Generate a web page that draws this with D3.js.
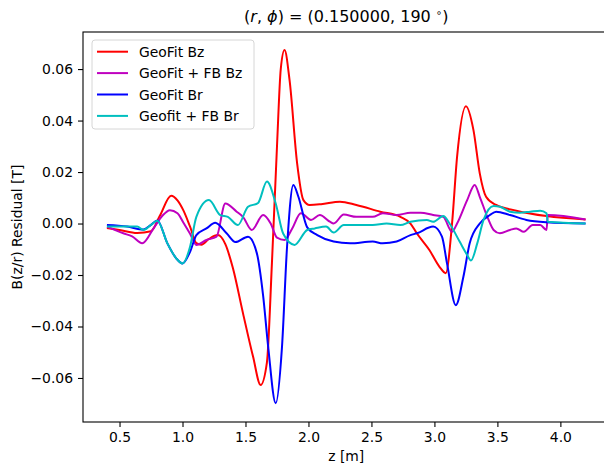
<html>
<head>
<meta charset="utf-8">
<script src="https://cdn.jsdelivr.net/npm/d3@7"></script>
<style>
  body { margin: 0; background: #fff; }
  text { font-family: "DejaVu Sans", sans-serif; fill: #000; }
</style>
</head>
<body>
<div id="chart"></div>
<script>
// series (z in m, residual in T)
const bzZ = [0.40,0.50,0.64,0.75,0.82,0.91,0.96,1.006,1.06,1.11,1.15,1.21,1.28,1.34,1.40,1.48,1.56,1.62,1.67,1.71,1.75,1.78,1.81,1.85,1.91,1.96,2.01,2.10,2.25,2.38,2.57,2.73,2.81,2.86,2.96,3.04,3.09,3.14,3.18,3.25,3.31,3.36,3.41,3.49,3.65,3.89,4.20];
const bzV = [-0.0017,-0.0025,-0.0037,-0.003,0.003,0.0108,0.009,0.0052,-0.0012,-0.0076,-0.0082,-0.006,-0.0045,-0.008,-0.0173,-0.0348,-0.0517,-0.0627,-0.054,-0.0153,0.0298,0.060,0.0674,0.0557,0.0234,0.0091,0.0072,0.0075,0.0085,0.0072,0.0046,0.0026,0.0,-0.0038,-0.0103,-0.0168,-0.0193,0.0,0.026,0.0456,0.0363,0.0195,0.0104,0.0072,0.005,0.0029,0.0016];

const fbBzZ = [0.40,0.53,0.60,0.68,0.77,0.84,0.90,0.96,1.01,1.06,1.11,1.19,1.27,1.34,1.43,1.48,1.55,1.64,1.70,1.75,1.81,1.87,1.94,2.02,2.09,2.17,2.20,2.28,2.38,2.51,2.59,2.70,2.81,2.89,2.99,3.07,3.14,3.18,3.26,3.32,3.36,3.42,3.47,3.52,3.60,3.65,3.71,3.78,3.84,3.89,3.90,4.20];
const fbBzV = [-0.0012,-0.0038,-0.005,-0.0077,-0.0019,0.003,0.0052,0.004,0.0001,-0.004,-0.0083,-0.0064,-0.0051,0.0078,0.0046,0.0026,-0.0025,0.0033,0.0,-0.0055,-0.0064,-0.002,0.004,0.0014,0.0033,0.0007,0.0,0.0035,0.0026,0.0026,0.004,0.0033,0.0042,0.0042,0.0033,0.0026,-0.0032,0.0,0.0091,0.015,0.0104,0.0026,-0.0025,-0.0038,-0.0025,-0.0019,-0.0032,-0.0006,-0.0006,-0.0025,0.0033,0.0016];

const brZ = [0.40,0.56,0.69,0.75,0.80,0.88,0.95,1.00,1.06,1.11,1.19,1.26,1.35,1.42,1.52,1.59,1.64,1.68,1.74,1.79,1.83,1.88,1.92,1.99,2.07,2.20,2.33,2.51,2.59,2.70,2.81,2.86,2.99,3.06,3.10,3.17,3.23,3.28,3.36,3.44,3.49,3.60,3.73,3.89,4.20];
const brV = [-0.0006,-0.0012,-0.0023,-0.0005,0.0012,-0.0077,-0.0135,-0.0155,-0.011,-0.0045,-0.0019,0.0003,-0.0038,-0.0072,-0.0051,-0.0115,-0.028,-0.0478,-0.0698,-0.0478,-0.009,0.015,0.0104,-0.0015,-0.0045,-0.007,-0.0077,-0.007,-0.0077,-0.007,-0.0045,-0.0038,-0.0012,-0.0051,-0.0155,-0.0317,-0.0207,-0.0077,0.0,0.0033,0.0046,0.0033,0.0014,0.0005,0.0];

const fbBrZ = [0.40,0.64,0.69,0.75,0.80,0.88,0.95,1.00,1.06,1.11,1.21,1.30,1.36,1.44,1.52,1.60,1.67,1.74,1.80,1.89,1.99,2.05,2.14,2.20,2.28,2.41,2.51,2.62,2.73,2.81,2.94,2.99,3.07,3.12,3.20,3.26,3.29,3.34,3.39,3.47,3.52,3.60,3.68,3.76,3.84,3.89,3.90,4.20];
const fbBrV = [-0.0012,-0.0012,-0.0025,-0.0005,0.0011,-0.0077,-0.0135,-0.0155,-0.009,0.0026,0.0091,0.0033,0.0026,-0.0006,0.0065,0.008,0.0163,0.0078,-0.004,-0.0083,-0.0025,-0.0019,-0.0012,-0.0035,-0.0006,-0.0006,-0.0006,0.0,-0.0006,0.0007,0.0014,0.0007,0.0029,0.0,-0.007,-0.0122,-0.0144,-0.0077,0.0014,0.0068,0.0065,0.0046,0.0042,0.0046,0.005,0.004,0.0007,0.0];

const seriesNames = ["GeoFit Bz", "GeoFit + FB Bz", "GeoFit Br", "Geofit + FB Br"];
const seriesColors = ["#ff0000", "#bf00bf", "#0000ff", "#00bfbf"];
const xTicks = [0.5, 1.0, 1.5, 2.0, 2.5, 3.0, 3.5, 4.0];
const yTicks = [-0.06, -0.04, -0.02, 0.00, 0.02, 0.04, 0.06];

const width = 604, height = 467;
const margin = {top: 32, left: 83, right: -5.5, bottom: 45};
const chartWidth = width - margin.left - margin.right;
const chartHeight = height - margin.top - margin.bottom;

let svg = d3.select("#chart").append("svg")
    .attr("width", width)
    .attr("height", height);

let xScale = d3.scaleLinear().domain([0.21, 4.39]).range([0, chartWidth]);
let yScale = d3.scaleLinear().domain([-0.0771, 0.0744]).range([chartHeight, 0]);

let chart = svg.append("g")
    .attr("transform", "translate(" + margin.left + "," + margin.top + ")");

chart.append("clipPath").attr("id", "plotclip")
    .append("rect").attr("width", chartWidth).attr("height", chartHeight);

// lines, drawn in legend order
const allSeries = [[bzZ, bzV], [fbBzZ, fbBzV], [brZ, brV], [fbBrZ, fbBrV]];
let lineGen = d3.line()
    .x(d => xScale(d[0]))
    .y(d => yScale(d[1]))
    .curve(d3.curveMonotoneX);

let lines = chart.append("g").attr("clip-path", "url(#plotclip)");
allSeries.forEach((s, i) => {
    const pts = s[0].map((z, k) => [z, s[1][k]]);
    lines.append("path")
        .datum(pts)
        .attr("fill", "none")
        .attr("stroke", seriesColors[i])
        .attr("stroke-width", 2)
        .attr("stroke-linejoin", "round")
        .attr("d", lineGen);
});

// axes
const minusFmt = v => d3.format(".2f")(v).replace("-", "\u2212");
let bottomAxis = d3.axisBottom(xScale).tickValues(xTicks).tickFormat(d3.format(".1f")).tickSize(5).tickPadding(5);
let leftAxis = d3.axisLeft(yScale).tickValues(yTicks).tickFormat(minusFmt).tickSize(5).tickPadding(5);

let gx = chart.append("g").attr("transform", "translate(0," + chartHeight + ")").call(bottomAxis);
let gy = chart.append("g").call(leftAxis);
[gx, gy].forEach(g => {
    g.select(".domain").remove();
    g.selectAll("line").attr("stroke", "#000").attr("stroke-width", 1.1);
    g.selectAll("text").style("font-size", "13.9px").style("font-family", "DejaVu Sans");
});

// frame
chart.append("rect")
    .attr("width", chartWidth).attr("height", chartHeight)
    .attr("fill", "none").attr("stroke", "#000").attr("stroke-width", 1.1);

// titles
svg.append("text")
    .attr("x", margin.left + chartWidth / 2).attr("y", 22)
    .attr("text-anchor", "middle").style("font-size", "16px")
    .html('(<tspan font-style="italic">r</tspan>, <tspan font-style="italic">\u03d5</tspan>) = (0.150000, 190 <tspan dy="-6" font-size="10px">\u2218</tspan><tspan dy="6">)</tspan>');

svg.append("text")
    .attr("x", margin.left + chartWidth / 2).attr("y", 461)
    .attr("text-anchor", "middle").style("font-size", "13.9px")
    .text("z [m]");

svg.append("text")
    .attr("transform", "translate(22," + (margin.top + chartHeight / 2) + ") rotate(-90)")
    .attr("text-anchor", "middle").style("font-size", "13.9px")
    .text("B(z/r) Residual [T]");

// legend
let legend = svg.append("g").attr("transform", "translate(92,40)");
legend.append("rect")
    .attr("width", 162).attr("height", 89).attr("rx", 3)
    .attr("fill", "#fff").attr("fill-opacity", 0.8)
    .attr("stroke", "#d6d6d6").attr("stroke-width", 1);
seriesNames.forEach((name, i) => {
    const yy = 11.7 + i * 21.4;
    legend.append("line")
        .attr("x1", 5).attr("x2", 36).attr("y1", yy).attr("y2", yy)
        .attr("stroke", seriesColors[i]).attr("stroke-width", 2);
    legend.append("text")
        .attr("x", 47).attr("y", yy + 5)
        .style("font-size", "13.9px")
        .text(name);
});
</script>
</body>
</html>
